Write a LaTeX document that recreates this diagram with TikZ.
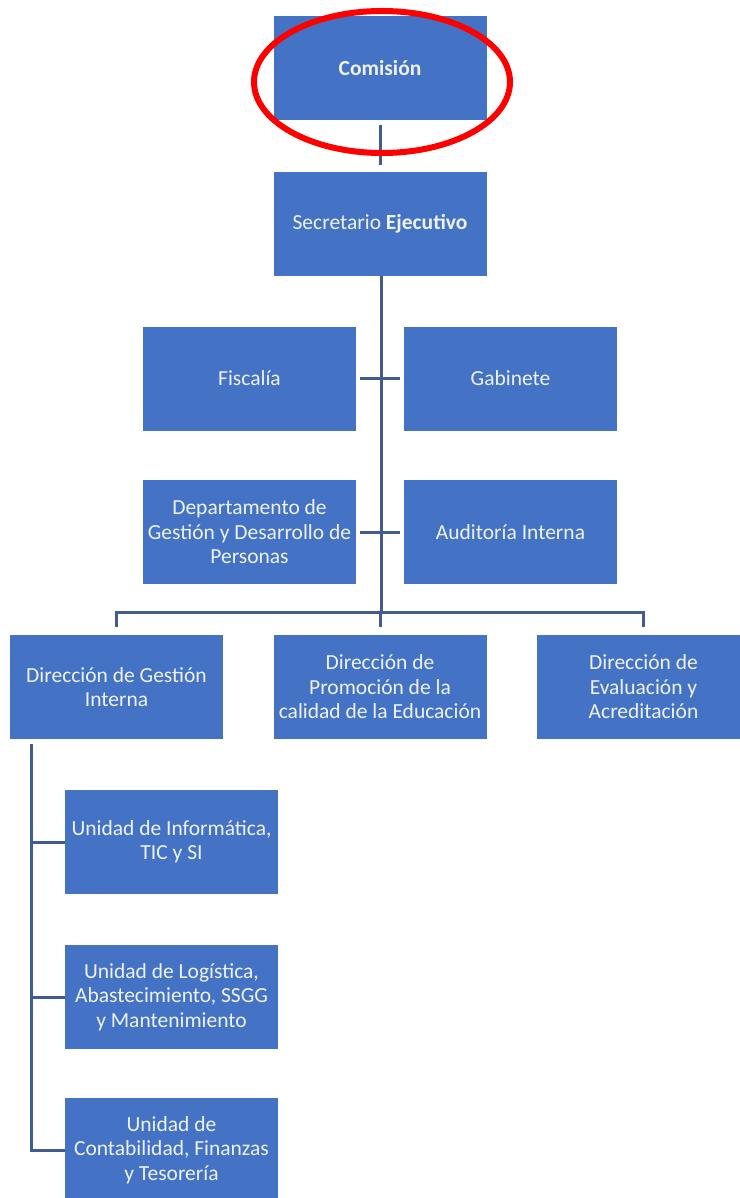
\documentclass[tikz,border=0pt]{standalone}
\usepackage{fontspec}
\setmainfont{Carlito}
\usepackage{tikz}
\usetikzlibrary{calc}

\definecolor{boxblue}{RGB}{68,114,196}
\definecolor{linkblue}{RGB}{66,92,146}
\definecolor{boxtext}{RGB}{238,242,250}

\tikzset{
    unit/.style={fill=boxblue, minimum width=213pt, minimum height=104pt, inner sep=0pt,
        align=center, text=boxtext, font=\fontsize{21.5}{24.5}\selectfont},
    link/.style={draw=linkblue, line width=3pt}
}

\begin{document}
\begin{tikzpicture}[x=1pt, y=-1pt]

    \useasboundingbox (0,0) rectangle (739,1198);

    %boxes
    \node[unit] (com) at (380,68) {\textbf{Comisión}};
    \node[unit] (sec) at (380,224) {Secretario \textbf{Ejecutivo}};
    \node[unit] (fis) at (249.5,378.5) {Fiscalía};
    \node[unit] (gab) at (510.5,378.5) {Gabinete};
    \node[unit] (dgp) at (249.5,532) {Departamento de\\Gestión y Desarrollo de\\Personas};
    \node[unit] (aud) at (510.5,532) {Auditoría Interna};
    \node[unit] (dgi) at (116.5,687) {Dirección de Gestión\\Interna};
    \node[unit] (dpc) at (380,687) {Dirección de\\Promoción de la\\calidad de la Educación};
    \node[unit] (dea) at (643.5,687) {Dirección de\\Evaluación y\\Acreditación};
    \node[unit] (uit) at (171.5,842) {Unidad de Informática,\\TIC y SI};
    \node[unit] (ulo) at (171.5,997) {Unidad de Logística,\\Abastecimiento, SSGG\\y Mantenimiento};
    \node[unit] (ucf) at (171.5,1150) {Unidad de\\Contabilidad, Finanzas\\y Tesorería};

    %coordinates
    \coordinate (bar) at (381,612); % branch to the directions
    \coordinate (sub) at ([xshift=22pt,yshift=-5pt]dgi.south west); % branch to the units

    %links
    \draw[link, shorten <=5pt, shorten >=7pt] (com) -- (sec);
    \draw[link] ([xshift=1pt]sec.south) -- (bar);
    \draw[link, shorten <=4pt, shorten >=4pt] (fis.east) -- (gab.west);
    \draw[link, shorten <=4pt, shorten >=4pt] (dgp.east) -- (aud.west);
    \draw[link, shorten >=8pt] (bar) -| (dgi.north);
    \draw[link, shorten >=8pt] (bar) -| (dea.north);
    \draw[link, shorten >=8pt] (bar) -- (bar -| dpc.north) -- (dpc.north);
    \draw[link] (sub) |- (ucf.west);
    \foreach \u in {uit,ulo}
    \draw[link] (sub |- \u.west) -- (\u.west);

    %highlight
    \draw[red, line width=6pt] (382,82) ellipse [x radius=128, y radius=71];

\end{tikzpicture}
\end{document}
